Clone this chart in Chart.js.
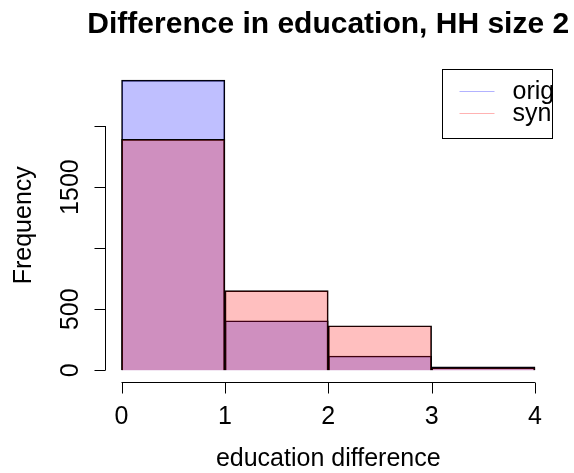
<!DOCTYPE html>
<html>
<head>
<meta charset="utf-8">
<script src="https://cdn.jsdelivr.net/npm/chart.js@4/dist/chart.umd.min.js"></script>
<style>
  html, body { margin: 0; padding: 0; background: #fff; }
  canvas { display: block; }
</style>
</head>
<body>
<canvas id="c" width="574" height="473"></canvas>
<script>
// Histogram bins (education difference) and counts per source
const binEdges = [0, 1, 2, 3, 4];
const origCounts = [2375, 406, 117, 28];
const synCounts = [1891, 652, 365, 22];
const xTicks = [0, 1, 2, 3, 4];
const yTicks = [0, 500, 1000, 1500, 2000];
const yTickLabels = ['0', '500', '', '1500', ''];
const seriesNames = ['orig', 'syn'];

const FONT = '"Liberation Sans", Arial, Helvetica, sans-serif';
const ORIG_FILL = 'rgba(0,0,255,0.25)';
const SYN_FILL = 'rgba(255,0,0,0.25)';

function binPoints(counts) {
  return counts.map((c, i) => ({ x: (binEdges[i] + binEdges[i + 1]) / 2, y: c }));
}

// R-style axes, titles and legend drawn from the chart's scales
const baseGraphics = {
  id: 'baseGraphics',
  beforeDraw(chart) {
    const ctx = chart.ctx;
    ctx.save();
    ctx.fillStyle = '#fff';
    ctx.fillRect(0, 0, chart.width, chart.height);
    ctx.restore();
  },
  afterDraw(chart) {
    const ctx = chart.ctx;
    const xs = chart.scales.x, ys = chart.scales.y;
    const area = chart.chartArea;
    ctx.save();
    ctx.strokeStyle = '#000';
    ctx.fillStyle = '#000';
    ctx.lineWidth = 1;

    // x axis
    const axY = Math.round(area.bottom) + 0.5;
    const x0 = xs.getPixelForValue(xTicks[0]);
    const x1 = xs.getPixelForValue(xTicks[xTicks.length - 1]);
    ctx.beginPath();
    ctx.moveTo(x0, axY); ctx.lineTo(x1, axY);
    xTicks.forEach(t => {
      const px = Math.round(xs.getPixelForValue(t)) + 0.5;
      ctx.moveTo(px, axY); ctx.lineTo(px, axY + 11);
    });
    ctx.stroke();
    ctx.font = '25px ' + FONT;
    ctx.textAlign = 'center';
    ctx.textBaseline = 'alphabetic';
    xTicks.forEach(t => ctx.fillText(String(t), xs.getPixelForValue(t), 424));

    // y axis
    const axX = Math.round(area.left) + 0.5;
    const yA = ys.getPixelForValue(yTicks[0]);
    const yB = ys.getPixelForValue(yTicks[yTicks.length - 1]);
    ctx.beginPath();
    ctx.moveTo(axX, yA); ctx.lineTo(axX, yB);
    yTicks.forEach(t => {
      const py = Math.round(ys.getPixelForValue(t)) + 0.5;
      ctx.moveTo(axX, py); ctx.lineTo(axX - 11, py);
    });
    ctx.stroke();
    yTicks.forEach((t, i) => {
      if (!yTickLabels[i]) return;
      ctx.save();
      ctx.translate(78, ys.getPixelForValue(t));
      ctx.rotate(-Math.PI / 2);
      ctx.textAlign = 'center';
      ctx.fillText(yTickLabels[i], 0, 0);
      ctx.restore();
    });

    // axis titles
    const midX = (area.left + area.right) / 2;
    ctx.textAlign = 'center';
    ctx.fillText('education difference', midX, 466);
    ctx.save();
    ctx.translate(31, (area.top + area.bottom) / 2);
    ctx.rotate(-Math.PI / 2);
    ctx.fillText('Frequency', 0, 0);
    ctx.restore();

    // main title
    ctx.font = 'bold 30px ' + FONT;
    ctx.fillText('Difference in education, HH size 2', midX, 33);

    // legend
    const lx = Math.round(area.right) + 0.5;
    const ly = Math.round(area.top) + 0.5;
    ctx.strokeStyle = '#000';
    ctx.strokeRect(lx - 110, ly, 110, 69);
    const rowY = [91.5, 113.5];
    const cols = ['rgba(0,0,255,0.3)', 'rgba(255,0,0,0.3)'];
    ctx.font = '25px ' + FONT;
    ctx.textAlign = 'left';
    ctx.textBaseline = 'middle';
    seriesNames.forEach((name, i) => {
      ctx.strokeStyle = cols[i];
      ctx.beginPath();
      ctx.moveTo(lx - 93, rowY[i]); ctx.lineTo(lx - 58, rowY[i]);
      ctx.stroke();
      ctx.fillStyle = '#000';
      ctx.fillText(name, lx - 40, rowY[i] + 1);
    });
    ctx.restore();
  }
};

new Chart(document.getElementById('c'), {
  type: 'bar',
  data: {
    datasets: [
      {
        label: seriesNames[0],
        data: binPoints(origCounts),
        backgroundColor: ORIG_FILL,
        borderColor: '#000',
        borderWidth: 1,
        order: 2
      },
      {
        label: seriesNames[1],
        data: binPoints(synCounts),
        backgroundColor: SYN_FILL,
        borderColor: '#000',
        borderWidth: 1,
        order: 1
      }
    ]
  },
  options: {
    responsive: false,
    animation: false,
    devicePixelRatio: 1,
    layout: { padding: { left: 105, right: 22.5, top: 68.6, bottom: 91.1 } },
    datasets: {
      bar: { grouped: false, barPercentage: 1, categoryPercentage: 1 }
    },
    scales: {
      x: {
        type: 'linear', min: -0.16, max: 4.16, display: false, offset: false,
        afterBuildTicks: (scale) => { scale.ticks = binEdges.map(v => ({ value: v })); }
      },
      y: { type: 'linear', min: -95, max: 2470, display: false }
    },
    plugins: {
      legend: { display: false },
      tooltip: { enabled: false },
      title: { display: false }
    }
  },
  plugins: [baseGraphics]
});
</script>
</body>
</html>
